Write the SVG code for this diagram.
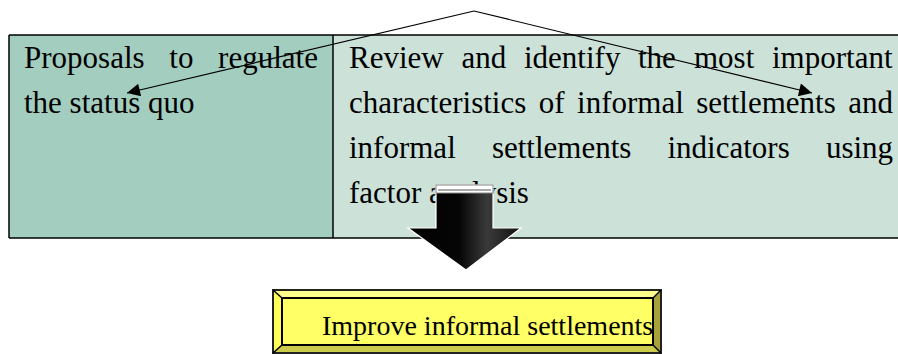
<svg xmlns="http://www.w3.org/2000/svg" width="898" height="354" viewBox="0 0 898 354">
<defs>
<style>
.t{font-family:"Liberation Serif","Times New Roman",serif;font-size:31px;fill:#000}
.b{font-family:"Liberation Serif","Times New Roman",serif;font-size:28px;fill:#000}
.ln{stroke:#000;stroke-width:1.5;fill:none}
.con{stroke:#000;stroke-width:1.2;fill:none}
</style>
<marker id="ah" viewBox="0 0 10 10" refX="10" refY="5" markerWidth="18" markerHeight="13" markerUnits="userSpaceOnUse" orient="auto">
<path d="M0,0 L10,5 L0,10 z" fill="#000"/>
</marker>
<linearGradient id="ag" x1="0" y1="0" x2="1" y2="0">
<stop offset="0" stop-color="#000"/>
<stop offset="0.45" stop-color="#050505"/>
<stop offset="0.7" stop-color="#3a3a3a"/>
<stop offset="1" stop-color="#101010"/>
</linearGradient>
</defs>
<rect width="898" height="354" fill="#fff"/>
<g id="cell-left">
<rect x="9" y="35" width="324" height="203" fill="#a3cdbf"/>
<text class="t"><tspan x="24" y="68">Proposals</tspan><tspan x="169.3" y="68">to</tspan><tspan x="218.1" y="68">regulate</tspan><tspan x="24" y="113">the status quo</tspan></text>
</g>
<g id="cell-right">
<rect x="333" y="35" width="565" height="203" fill="#cce2d9"/>
<text class="t"><tspan x="349" y="68">Review</tspan><tspan x="461.5" y="68">and</tspan><tspan x="524" y="68">identify</tspan><tspan x="638" y="68">the</tspan><tspan x="694" y="68">most</tspan><tspan x="772" y="68">important</tspan><tspan x="349" y="113">characteristics</tspan><tspan x="538.8" y="113">of</tspan><tspan x="577.1" y="113">informal</tspan><tspan x="696.3" y="113">settlements</tspan><tspan x="848.3" y="113">and</tspan><tspan x="349" y="158">informal</tspan><tspan x="491.9" y="158">settlements</tspan><tspan x="667.5" y="158">indicators</tspan><tspan x="825.9" y="158">using</tspan><tspan x="349" y="203">factor analysis</tspan></text>
</g>
<g id="table-lines">
<line class="ln" x1="9" y1="35" x2="898" y2="35"/>
<line class="ln" x1="9" y1="238" x2="898" y2="238"/>
<line class="ln" x1="9" y1="35" x2="9" y2="238"/>
<line class="ln" x1="333" y1="35" x2="333" y2="238"/>
</g>
<g id="connectors">
<polyline class="con" points="474,11 127,93" marker-end="url(#ah)"/>
<polyline class="con" points="474,11 812,93" marker-end="url(#ah)"/>
</g>
<g id="down-arrow">
<path d="M436,185 L493,185 L493,228 L521,228 L466,270 L408,228 L436,228 z" fill="url(#ag)" stroke="#fff" stroke-width="1.2"/>
<rect x="436" y="185" width="57" height="8" fill="#fff" stroke="#888" stroke-width="1"/>
<line x1="438" y1="190" x2="491" y2="190" stroke="#555" stroke-width="1"/>
</g>
<g id="improve-box">
<polygon points="273,290 661,290 653,298 282,298" fill="#ffff8c"/>
<polygon points="273,290 282,298 282,345 273,353" fill="#ffff5a"/>
<polygon points="661,290 661,353 653,345 653,298" fill="#a8a23a"/>
<polygon points="273,353 282,345 653,345 661,353" fill="#cccc4c"/>
<rect x="282" y="298" width="371" height="47" fill="#ffff66" stroke="#000" stroke-width="2"/>
<rect x="273" y="290" width="388" height="63" fill="none" stroke="#222" stroke-width="2"/>
<line x1="273" y1="290" x2="282" y2="298" stroke="#000" stroke-width="1.5"/>
<line x1="661" y1="290" x2="653" y2="298" stroke="#000" stroke-width="1.5"/>
<line x1="273" y1="353" x2="282" y2="345" stroke="#000" stroke-width="1.5"/>
<line x1="661" y1="353" x2="653" y2="345" stroke="#000" stroke-width="1.5"/>
<text class="b" x="322" y="335">Improve informal settlements</text>
</g>
</svg>
